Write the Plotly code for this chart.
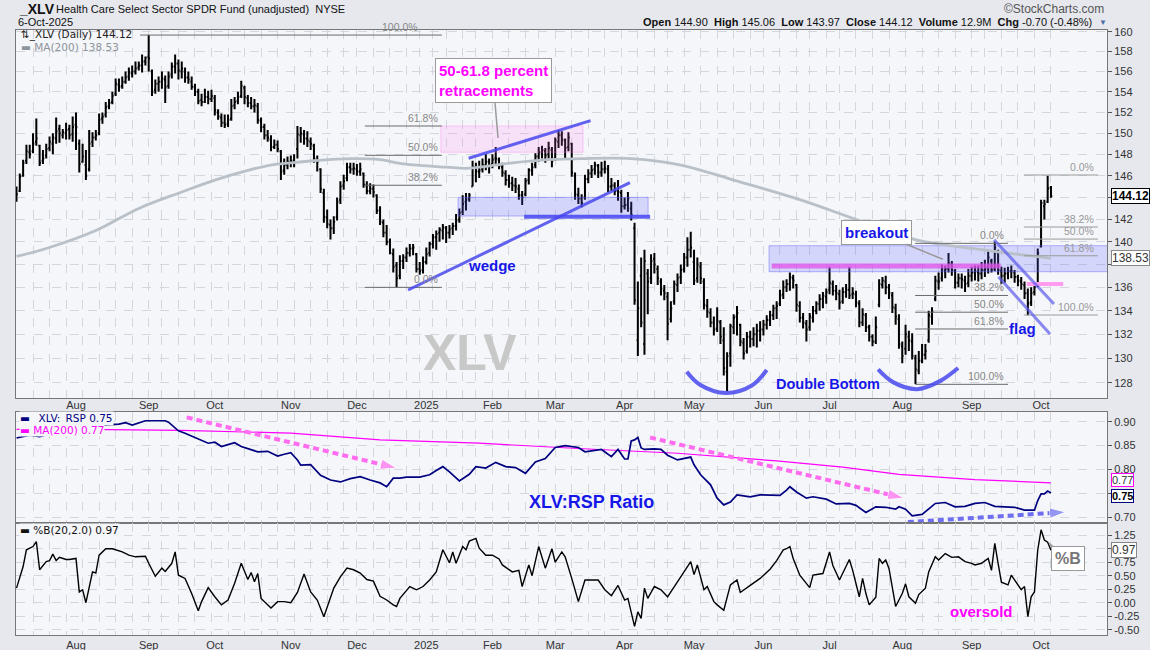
import math

import numpy as np
import pandas as pd
import plotly.graph_objects as go
from plotly.subplots import make_subplots

# trading calendar (weekdays minus exchange closures)
market_holidays = ["2024-09-02", "2024-11-28", "2024-12-25", "2025-01-01", "2025-01-09",
                   "2025-01-20", "2025-02-17", "2025-04-18", "2025-05-26", "2025-06-19",
                   "2025-07-04", "2025-09-01"]
all_days = pd.bdate_range("2024-07-08", "2025-10-06")
sessions = all_days[~all_days.strftime("%Y-%m-%d").isin(market_holidays)]

# _XLV daily bars
opens = [
    144.0, 144.6, 146.0, 147.4, 148.2, 148.3, 149.2, 148.8, 147.4, 147.9,
    148.6, 149.0, 149.5, 150.4, 149.8, 150.0, 150.4, 149.9, 150.8, 149.0,
    147.3, 147.0, 146.6, 149.2, 149.6, 150.0, 151.4, 151.8, 152.6, 153.0,
    153.8, 154.7, 154.6, 155.0, 155.5, 155.8, 156.0, 156.4, 156.6, 157.0,
    157.5, 156.0, 154.2, 154.8, 155.0, 155.2, 154.6, 155.7, 156.5, 156.8,
    156.0, 156.0, 155.4, 155.0, 154.5, 154.0, 153.2, 153.0, 153.5, 153.3,
    153.4, 152.0, 151.5, 151.0, 150.9, 151.4, 152.7, 153.1, 153.6, 154.4,
    153.4, 152.9, 152.6, 152.6, 151.2, 150.6, 149.8, 149.4, 148.7, 148.9,
    148.3, 146.5, 147.0, 147.3, 147.4, 148.5, 149.8, 149.9, 149.5, 149.2,
    148.8, 147.4, 146.6, 144.4, 142.2, 141.5, 141.2, 142.2, 143.8, 145.1,
    145.8, 146.8, 146.6, 146.6, 146.4, 146.2, 145.1, 144.6, 144.8, 144.2,
    142.8, 141.7, 140.8, 140.0, 138.9, 137.9, 137.0, 138.3, 138.6, 139.0,
    139.4, 138.9, 137.6, 137.5, 138.2, 139.0, 139.8, 140.4, 140.8, 141.0,
    141.2, 140.8, 141.2, 141.4, 142.0, 142.7, 143.6, 143.9, 145.0, 146.8,
    146.4, 146.6, 147.0, 147.3, 147.1, 147.6, 147.5, 146.8, 146.2, 145.6,
    145.3, 145.1, 144.8, 144.2, 144.3, 145.6, 146.5, 147.0, 147.8, 148.2,
    148.3, 148.0, 148.4, 147.6, 149.2, 149.8, 149.3, 148.7, 149.0, 146.0,
    144.2, 143.9, 144.0, 145.7, 146.2, 146.6, 146.9, 146.3, 146.6, 146.6,
    145.0, 145.1, 144.6, 144.4, 143.2, 143.3, 143.0, 141.2, 131.5, 137.0,
    131.2, 137.2, 136.8, 138.5, 137.6, 136.5, 135.7, 135.2, 133.3, 134.8,
    136.2, 136.9, 137.6, 138.6, 139.3, 138.2, 136.8, 137.8, 136.5, 134.4,
    133.8, 133.0, 132.5, 133.0, 131.5, 128.9, 130.4, 132.6, 133.5, 132.8,
    131.3, 130.6, 131.8, 131.6, 132.0, 132.3, 132.4, 132.8, 133.2, 133.6,
    134.2, 134.6, 135.4, 136.0, 136.3, 136.8, 136.2, 134.4, 133.4, 132.9,
    132.6, 133.4, 134.0, 134.6, 135.0, 135.2, 135.8, 136.3, 135.7, 135.4,
    134.8, 135.6, 135.8, 135.4, 135.4, 134.6, 133.0, 133.6, 132.6, 131.8,
    131.4, 134.5, 136.2, 136.5, 136.0, 135.3, 134.2, 133.3, 131.0, 130.8,
    131.8, 131.4, 130.0, 129.0, 129.8, 130.3, 131.5, 133.5, 135.0, 136.5,
    136.8, 137.4, 137.6, 138.0, 137.4, 136.4, 136.8, 136.6, 136.4, 137.0,
    137.3, 137.3, 137.2, 137.5, 137.7, 138.3, 137.6, 139.0, 137.4, 137.0,
    137.2, 137.4, 137.3, 136.9, 136.5, 136.2, 135.5, 134.7, 135.6, 136.2,
    139.6, 143.2, 143.6, 144.90,
]
highs = [
    145.0, 146.2, 147.5, 148.9, 148.9, 150.0, 151.4, 148.9, 148.4, 149.0,
    149.7, 150.0, 151.5, 150.8, 150.4, 151.0, 150.8, 151.6, 152.0, 149.4,
    149.0, 148.4, 150.3, 150.1, 150.3, 151.9, 152.0, 153.0, 153.3, 154.0,
    155.3, 155.3, 155.5, 156.0, 156.4, 156.6, 157.0, 157.0, 157.7, 157.5,
    159.66, 156.2, 155.2, 155.5, 156.0, 155.6, 156.0, 156.9, 157.7, 157.2,
    157.0, 156.4, 156.0, 155.5, 154.8, 154.3, 153.8, 154.3, 154.1, 154.2,
    153.7, 152.3, 151.9, 151.8, 151.8, 153.3, 153.5, 154.0, 155.1, 154.6,
    153.7, 153.5, 153.3, 152.9, 151.5, 150.9, 150.3, 149.8, 149.4, 149.3,
    148.4, 147.6, 147.8, 147.9, 148.0, 150.7, 150.6, 150.3, 150.2, 149.6,
    149.0, 147.9, 146.7, 144.8, 142.9, 142.0, 142.3, 144.0, 145.5, 146.1,
    147.2, 147.2, 147.2, 147.1, 147.2, 146.3, 145.5, 145.3, 145.2, 144.3,
    143.2, 142.0, 141.5, 140.3, 139.4, 138.2, 138.8, 138.9, 139.5, 139.8,
    139.8, 139.0, 138.2, 138.7, 139.5, 140.0, 140.7, 141.0, 141.3, 141.6,
    141.4, 141.5, 141.7, 142.5, 143.0, 144.2, 144.4, 144.4, 147.4, 147.2,
    147.4, 147.6, 148.0, 147.6, 148.0, 148.7, 147.7, 147.2, 146.5, 146.1,
    145.9, 145.8, 145.2, 144.6, 145.8, 146.7, 147.2, 148.1, 148.7, 148.8,
    148.6, 149.2, 148.7, 149.6, 150.3, 150.2, 149.5, 150.1, 149.1, 146.3,
    144.9, 144.3, 146.1, 146.6, 147.0, 147.3, 147.1, 147.3, 147.4, 147.0,
    145.8, 145.4, 145.6, 144.7, 144.0, 144.5, 143.6, 141.7, 136.5, 138.6,
    139.3, 137.6, 138.9, 139.0, 137.9, 136.8, 136.2, 135.6, 134.8, 136.6,
    137.2, 138.0, 139.0, 140.4, 140.9, 139.3, 138.6, 138.2, 136.8, 135.0,
    134.2, 133.5, 134.3, 133.2, 132.6, 130.5, 132.9, 133.7, 134.4, 132.9,
    131.7, 132.2, 132.3, 132.6, 132.9, 133.1, 133.2, 133.6, 134.0, 134.5,
    134.8, 135.8, 136.6, 136.7, 137.3, 137.1, 136.3, 134.8, 133.8, 133.2,
    133.8, 134.4, 134.8, 135.4, 135.6, 135.9, 137.8, 136.6, 136.2, 135.8,
    136.0, 136.3, 137.8, 136.0, 135.7, 134.9, 134.2, 133.8, 132.8, 132.0,
    133.5, 136.7, 136.9, 137.0, 136.3, 135.6, 134.6, 133.7, 131.4, 132.8,
    132.3, 132.1, 130.3, 130.6, 131.2, 131.2, 134.0, 134.3, 137.0, 137.3,
    138.0, 137.9, 139.0, 138.3, 137.6, 137.2, 137.2, 137.0, 137.6, 137.8,
    137.9, 137.9, 138.2, 138.4, 139.3, 138.5, 140.0, 139.3, 137.8, 137.7,
    137.8, 137.9, 137.5, 137.1, 136.9, 136.5, 135.9, 136.0, 136.2, 139.4,
    143.8, 143.8, 146.0, 145.06,
]
lows = [
    143.6, 144.5, 145.9, 147.1, 147.6, 148.1, 148.8, 146.9, 147.1, 147.6,
    148.3, 148.0, 149.0, 149.1, 149.5, 149.4, 149.4, 149.2, 148.4, 146.3,
    147.2, 145.6, 146.4, 148.7, 149.3, 149.8, 150.9, 151.5, 152.3, 152.8,
    153.6, 154.0, 154.3, 154.8, 155.1, 155.4, 155.7, 156.1, 155.9, 156.6,
    156.0, 153.6, 153.8, 154.0, 154.3, 152.9, 154.3, 155.3, 155.8, 155.2,
    155.3, 154.9, 154.8, 154.2, 153.6, 152.8, 152.6, 152.9, 152.8, 153.0,
    151.7, 151.3, 150.6, 150.5, 150.6, 151.2, 152.3, 152.8, 153.4, 152.8,
    152.5, 152.3, 152.0, 150.9, 150.1, 149.4, 149.2, 148.3, 148.5, 148.2,
    145.6, 146.1, 146.6, 146.8, 146.8, 147.6, 149.1, 148.9, 148.7, 148.4,
    147.2, 146.4, 144.4, 141.7, 141.2, 140.2, 140.7, 141.9, 143.4, 144.7,
    145.5, 146.2, 146.1, 146.0, 146.0, 144.9, 144.3, 144.3, 144.0, 142.5,
    141.5, 140.4, 139.7, 138.9, 137.3, 136.0, 136.7, 137.6, 138.2, 138.7,
    138.8, 137.3, 137.1, 137.2, 138.0, 138.7, 139.4, 139.3, 140.0, 140.2,
    139.9, 140.3, 140.6, 141.0, 141.7, 142.4, 142.8, 143.6, 145.0, 145.4,
    145.8, 146.3, 146.5, 146.2, 146.7, 147.0, 146.6, 145.9, 145.1, 144.9,
    144.6, 144.4, 143.8, 143.3, 144.1, 145.2, 146.0, 146.7, 147.3, 147.6,
    147.2, 147.6, 146.8, 147.4, 148.6, 148.8, 147.6, 148.3, 145.9, 143.8,
    143.4, 143.1, 143.8, 145.3, 145.8, 146.1, 145.8, 145.9, 146.2, 144.5,
    144.6, 144.2, 143.7, 142.6, 142.9, 142.7, 141.9, 134.5, 130.2, 132.6,
    130.3, 133.7, 136.3, 137.2, 136.2, 135.3, 134.9, 131.5, 133.0, 134.5,
    135.6, 136.3, 137.3, 137.8, 138.6, 136.2, 136.4, 136.3, 134.1, 133.4,
    132.6, 131.9, 132.2, 131.2, 128.6, 127.3, 129.3, 132.0, 131.9, 131.0,
    129.9, 130.4, 130.9, 131.0, 130.9, 131.4, 131.9, 132.4, 132.7, 133.2,
    133.3, 134.4, 135.0, 135.6, 135.7, 135.9, 133.9, 133.0, 132.5, 131.4,
    132.3, 133.0, 133.7, 134.0, 134.2, 134.6, 135.4, 135.3, 134.9, 134.1,
    134.6, 135.1, 135.0, 135.0, 134.3, 132.6, 132.7, 132.2, 131.4, 131.0,
    131.2, 134.3, 135.9, 135.4, 135.0, 133.8, 132.8, 130.8, 129.6, 130.3,
    130.6, 129.9, 127.9, 128.7, 129.6, 129.9, 131.3, 132.8, 134.8, 135.8,
    136.5, 136.8, 137.3, 137.0, 135.9, 136.0, 135.9, 135.6, 136.0, 136.5,
    136.6, 136.5, 136.7, 136.9, 137.2, 137.3, 137.4, 137.1, 136.3, 136.4,
    136.7, 136.8, 136.4, 136.1, 135.8, 135.0, 133.6, 134.4, 135.3, 136.0,
    139.5, 142.0, 143.5, 143.97,
]
closes = [
    144.3, 145.9, 147.2, 148.3, 148.0, 149.0, 149.5, 147.2, 147.6, 148.5,
    149.2, 149.6, 150.2, 150.0, 150.1, 150.3, 149.8, 150.6, 150.6, 147.1,
    147.8, 146.0, 149.0, 149.6, 149.8, 151.3, 151.6, 152.5, 152.9, 153.6,
    154.8, 154.5, 155.0, 155.4, 155.9, 156.0, 156.3, 156.6, 157.0, 157.4,
    157.3, 154.0, 154.8, 155.0, 155.3, 154.5, 155.5, 156.5, 156.8, 156.1,
    156.3, 155.4, 155.2, 154.5, 154.0, 153.1, 153.0, 153.5, 153.3, 153.6,
    152.2, 151.6, 151.0, 150.8, 151.3, 152.6, 153.0, 153.5, 154.6, 153.5,
    152.9, 152.6, 152.7, 151.3, 150.6, 149.8, 149.6, 148.7, 148.9, 148.5,
    146.4, 147.0, 147.3, 147.4, 147.2, 149.9, 150.0, 149.5, 149.3, 149.0,
    147.6, 147.3, 144.8, 142.2, 141.6, 141.2, 141.8, 143.6, 145.0, 145.5,
    146.8, 146.6, 146.7, 146.4, 146.6, 145.2, 144.6, 144.8, 144.5, 142.8,
    141.8, 140.8, 140.0, 139.0, 137.8, 136.8, 138.3, 138.6, 139.0, 139.4,
    139.5, 137.6, 137.4, 138.2, 138.9, 139.8, 140.4, 140.7, 141.1, 141.3,
    140.8, 141.1, 141.4, 141.9, 142.6, 143.4, 143.8, 144.2, 146.8, 146.4,
    146.5, 147.0, 147.3, 147.0, 147.5, 147.6, 146.9, 146.3, 145.6, 145.3,
    145.1, 145.0, 144.2, 144.0, 145.5, 146.5, 146.8, 147.8, 148.2, 148.4,
    147.9, 148.6, 147.4, 149.3, 149.8, 149.4, 148.6, 149.6, 146.3, 144.3,
    143.9, 143.5, 145.7, 146.2, 146.5, 147.0, 146.3, 146.6, 146.7, 145.0,
    145.1, 144.6, 144.5, 143.2, 143.3, 143.9, 142.4, 134.9, 134.2, 133.0,
    138.3, 136.5, 138.3, 138.0, 136.8, 135.9, 135.5, 132.9, 134.2, 136.3,
    136.8, 137.5, 138.6, 139.3, 139.5, 136.6, 138.0, 136.8, 134.5, 133.9,
    133.0, 132.4, 133.1, 131.8, 129.2, 130.2, 132.7, 133.4, 133.8, 131.4,
    130.4, 131.8, 131.6, 132.0, 132.3, 132.4, 132.8, 133.2, 133.6, 134.2,
    134.4, 135.3, 136.0, 136.3, 136.9, 136.6, 134.5, 133.4, 133.0, 132.4,
    133.5, 134.0, 134.6, 135.0, 135.3, 135.6, 136.4, 135.7, 135.5, 134.7,
    135.6, 135.8, 135.3, 135.5, 134.7, 133.0, 133.7, 132.6, 131.8, 131.4,
    132.6, 136.3, 136.6, 136.0, 135.5, 134.3, 133.5, 131.2, 130.2, 132.0,
    131.5, 130.2, 129.1, 129.8, 130.3, 130.6, 133.6, 133.9, 136.6, 136.5,
    137.6, 137.6, 138.1, 137.5, 136.4, 136.8, 136.7, 136.3, 137.0, 137.3,
    137.4, 137.2, 137.5, 137.6, 138.6, 137.5, 139.5, 137.5, 137.0, 137.2,
    137.4, 137.4, 136.9, 136.6, 136.3, 135.5, 134.6, 135.5, 136.0, 139.0,
    143.5, 143.4, 144.82, 144.12,
]

# MA(200) of price, read at session numbers
ma200_session = [0, 9, 24, 37, 50, 60, 70, 77, 83, 90, 101, 110, 117,
                 130, 137, 150, 161, 171, 186, 201, 217, 237, 255, 272, 292, 313]
ma200_value = [138.7, 139.4, 141.0, 143.0, 144.5, 145.6, 146.5, 147.0, 147.2, 147.4, 147.6, 147.5, 147.1,
               146.8, 146.7, 147.2, 147.5, 147.6, 147.6, 147.0, 145.6, 143.8, 141.9, 140.2, 139.3, 138.53]

# _XLV:_RSP ratio
ratio_session = [
    0, 4, 7, 12, 18, 24, 31, 33, 35, 37,
    39, 42, 45, 46, 47, 49, 51, 53, 55, 58,
    60, 62, 64, 66, 68, 70, 73, 76, 79, 81,
    83, 85, 86, 89, 92, 95, 98, 101, 104, 107,
    110, 112, 114, 116, 118, 122, 125, 127, 129, 131,
    134, 137, 139, 142, 145, 148, 151, 154, 157, 160,
    163, 166, 168, 170, 172, 175, 177, 180, 182, 184,
    185, 186, 187, 188, 189, 190, 193, 195, 197, 200,
    202, 204, 205, 207, 210, 212, 214, 216, 218, 222,
    225, 228, 231, 233, 234, 236, 239, 241, 245, 248,
    252, 254, 257, 260, 263, 266, 267, 269, 271, 274,
    278, 281, 284, 287, 290, 293, 296, 299, 302, 305,
    308, 309, 310, 311, 312, 313,
]
ratio_value = [
    0.866, 0.872, 0.869, 0.878, 0.885, 0.892, 0.895, 0.898, 0.893, 0.897,
    0.902, 0.902, 0.902, 0.899, 0.893, 0.881, 0.876, 0.870, 0.863, 0.855,
    0.857, 0.848, 0.852, 0.856, 0.848, 0.844, 0.837, 0.838, 0.828, 0.832,
    0.835, 0.820, 0.809, 0.810, 0.788, 0.778, 0.774, 0.781, 0.785, 0.778,
    0.772, 0.764, 0.782, 0.782, 0.784, 0.784, 0.789, 0.798, 0.806, 0.795,
    0.776, 0.790, 0.806, 0.803, 0.815, 0.806, 0.804, 0.792, 0.816, 0.823,
    0.846, 0.850, 0.848, 0.846, 0.837, 0.840, 0.842, 0.827, 0.842, 0.822,
    0.822, 0.860, 0.862, 0.867, 0.845, 0.842, 0.843, 0.842, 0.830, 0.820,
    0.823, 0.826, 0.810, 0.789, 0.768, 0.740, 0.726, 0.732, 0.747, 0.743,
    0.747, 0.747, 0.746, 0.757, 0.764, 0.753, 0.740, 0.743, 0.738, 0.728,
    0.729, 0.725, 0.710, 0.722, 0.721, 0.717, 0.722, 0.717, 0.703, 0.706,
    0.729, 0.731, 0.722, 0.723, 0.729, 0.731, 0.723, 0.722, 0.721, 0.715,
    0.715, 0.735, 0.749, 0.749, 0.755, 0.751,
]
ratio_ma_session = [0, 20, 50, 83, 110, 140, 170, 200, 230, 250, 267, 290, 313]
ratio_ma_value = [0.884, 0.884, 0.882, 0.876, 0.862, 0.855, 0.844, 0.834, 0.818, 0.805, 0.790, 0.779, 0.772]

# %B(20,2.0)
pctb_session = [
    0, 2, 3, 5, 6, 7, 9, 10, 11, 12,
    13, 15, 16, 18, 19, 20, 21, 23, 24, 25,
    27, 29, 32, 34, 36, 39, 40, 42, 44, 45,
    47, 48, 49, 51, 53, 55, 56, 58, 60, 62,
    64, 66, 68, 70, 71, 72, 73, 74, 77, 79,
    81, 83, 85, 87, 89, 91, 93, 94, 96, 98,
    100, 102, 104, 106, 108, 110, 112, 114, 115, 116,
    119, 121, 123, 125, 127, 129, 131, 132, 133, 135,
    136, 137, 139, 140, 142, 144, 146, 147, 150, 152,
    153, 155, 156, 158, 160, 162, 163, 165, 166, 168,
    170, 172, 174, 176, 178, 180, 182, 184, 185, 187,
    188, 189, 190, 191, 193, 195, 197, 199, 201, 204,
    205, 206, 208, 209, 211, 212, 214, 216, 218, 219,
    222, 225, 228, 230, 232, 233, 234, 235, 237, 240,
    241, 244, 246, 247, 249, 252, 253, 255, 256, 257,
    258, 260, 261, 262, 263, 264, 266, 268, 269, 270,
    272, 273, 275, 276, 278, 279, 281, 283, 285, 287,
    289, 290, 292, 294, 295, 296, 297, 298, 300, 301,
    303, 304, 305, 306, 307, 308, 309, 310, 311, 312,
    313,
]
pctb_value = [
    0.27, 0.67, 0.98, 1.04, 1.13, 0.61, 0.76, 0.78, 0.90, 0.78,
    0.84, 0.80, 0.80, 0.82, 0.20, 0.24, 0.00, 0.57, 0.55, 0.88,
    1.00, 1.00, 0.94, 0.88, 0.85, 0.86, 0.73, 0.49, 0.64, 0.58,
    0.73, 0.94, 0.51, 0.45, 0.17, -0.15, 0.02, 0.28, 0.11, -0.04,
    0.05, 0.36, 0.73, 0.43, 0.56, 0.39, 0.54, 0.08, -0.10, 0.02,
    0.02, 0.00, 0.19, 0.53, 0.20, 0.05, -0.26, -0.07, 0.27, 0.48,
    0.64, 0.61, 0.55, 0.43, 0.40, 0.12, 0.05, -0.04, -0.07, 0.08,
    0.30, 0.24, 0.30, 0.42, 0.57, 0.98, 0.74, 0.94, 0.73, 1.04,
    0.98, 1.14, 1.19, 1.01, 0.88, 0.88, 0.81, 0.70, 0.57, 0.60,
    0.30, 0.70, 0.50, 1.04, 0.64, 1.00, 0.75, 0.94, 0.85, 0.45,
    0.02, 0.42, 0.42, 0.42, 0.24, 0.13, 0.32, 0.05, 0.08, -0.44,
    -0.17, -0.29, 0.27, 0.08, 0.30, 0.24, 0.11, 0.30, 0.48, 0.76,
    0.52, 0.70, 0.24, 0.30, 0.02, -0.04, -0.14, 0.33, 0.42, 0.19,
    0.32, 0.45, 0.62, 0.78, 0.98, 1.00, 1.04, 0.82, 0.51, 0.28,
    0.51, 0.54, 0.94, 0.69, 0.42, 0.80, 0.60, 0.11, 0.45, 0.17,
    -0.04, 0.10, 0.82, 0.73, 0.79, 0.63, -0.07, 0.17, 0.35, 0.11,
    -0.01, 0.15, 0.27, 0.57, 0.85, 0.79, 0.91, 0.84, 0.85, 0.76,
    0.73, 0.70, 0.73, 0.82, 0.60, 1.10, 0.73, 0.38, 0.33, 0.51,
    0.33, 0.24, 0.30, -0.26, 0.11, 0.20, 0.98, 1.35, 1.16, 1.12,
    0.97,
]

# axis ticks; labels sitting under a last-value tag are left blank, as on the original
price_ticks = list(range(128, 161, 2))
price_ticktext = ["" if t in (138, 144) else str(t) for t in price_ticks]
ratio_ticks = [0.70, 0.75, 0.80, 0.85, 0.90]
ratio_ticktext = ["0.70", "", "0.80", "0.85", "0.90"]
pctb_ticks = [-0.5, -0.25, 0.0, 0.25, 0.5, 0.75, 1.0, 1.25]
pctb_ticktext = ["-0.50", "-0.25", "0.00", "0.25", "0.50", "0.75", "", "1.25"]

# fibonacci retracement levels (price, label)
fib_left = [(159.66, "100.0%"), (150.69, "61.8%"), (147.91, "50.0%"), (145.12, "38.2%"), (136.0, "0.0%")]
fib_mid = [(139.86, "0.0%"), (135.3, "38.2%"), (133.87, "50.0%"), (132.45, "61.8%"), (127.87, "100.0%")]
fib_right = [(146.07, "0.0%"), (141.32, "38.2%"), (140.24, "50.0%"), (138.76, "61.8%"), (133.63, "100.0%")]

x = np.arange(len(sessions))
assert len(x) == len(closes) == len(opens) == len(highs) == len(lows)

month_start = [i for i in range(1, len(sessions)) if sessions[i].month != sessions[i - 1].month]
month_text = ["2025" if sessions[i].month == 1 else sessions[i].strftime("%b") for i in month_start]
week_start = [i for i in range(1, len(sessions)) if sessions[i].weekday() < sessions[i - 1].weekday()]

FONT = "Liberation Sans, Arial, sans-serif"
PLOT_BG = "#f5f6f9"
TXT_BLUE = "#1616e8"
DRAW_BLUE = "rgba(72,72,238,0.85)"
ZONE_FILL = "rgba(95,95,255,0.22)"
ZONE_EDGE = "rgba(95,95,255,0.45)"
PINK_DASH = "#ff6cf0"
LY = math.log10

fig = make_subplots(rows=3, cols=1, vertical_spacing=0.01)


def seg(xs, ys, color, width, row, dash=None, shape="linear"):
    fig.add_trace(go.Scatter(x=xs, y=ys, mode="lines", hoverinfo="skip", showlegend=False,
                             line=dict(color=color, width=width, dash=dash, shape=shape)),
                  row=row, col=1)


def box(x0, x1, y0, y1, fill, edge, row):
    fig.add_trace(go.Scatter(x=[x0, x1, x1, x0, x0], y=[y0, y0, y1, y1, y0], mode="lines",
                             fill="toself", fillcolor=fill, line=dict(color=edge, width=1),
                             hoverinfo="skip", showlegend=False),
                  row=row, col=1)


def arrow(xs, ys, color, row):
    fig.add_trace(go.Scatter(x=xs, y=ys, mode="lines+markers", hoverinfo="skip", showlegend=False,
                             line=dict(color=color, width=4, dash="6px,4px"),
                             marker=dict(symbol="arrow", size=[0, 17], angleref="previous", color=color)),
                  row=row, col=1)


# ---- price panel drawings (under the bars)
box(128.4, 171.4, 148.2, 150.69, "rgba(255,120,240,0.16)", "rgba(255,120,240,0.35)", 1)
box(133.6, 191.1, 142.31, 144.01, ZONE_FILL, ZONE_EDGE, 1)
box(227.7, 331.0, 137.36, 139.65, ZONE_FILL, ZONE_EDGE, 1)

fig.add_trace(go.Ohlc(x=x, open=opens, high=highs, low=lows, close=closes, tickwidth=0.4,
                      increasing=dict(line=dict(color="black", width=2)),
                      decreasing=dict(line=dict(color="black", width=2)),
                      hoverinfo="skip", showlegend=False), row=1, col=1)

seg(ma200_session, ma200_value, "#b9c0c8", 2.8, 1, shape="spline")

# fib lines
for lv, _ in fib_left:
    seg([37.4 if lv > 155 else 105.4, 128.7], [lv, lv], "#6a6a6a", 1, 1)
for lv, _ in fib_mid:
    seg([271.9, 300.0], [lv, lv], "#6a6a6a", 1, 1)
for lv, _ in fib_right:
    seg([304.8, 327.2], [lv, lv], "#9a9a9a", 1, 1)

seg([153.6, 191.7], [142.25, 142.25], "rgba(70,70,240,0.85)", 4, 1)
seg([136.8, 173.7], [147.63, 151.2], DRAW_BLUE, 3, 1)
seg([118.5, 185.6], [135.77, 145.36], DRAW_BLUE, 3, 1)
seg([228.5, 297.8], [137.86, 137.86], "rgba(225,80,235,0.75)", 5, 1)
seg([305.7, 316.7], [136.29, 136.29], "#ff9cf0", 4, 1)
seg([295.8, 313.9], [140.17, 134.57], "rgba(90,90,235,0.7)", 3, 1)
seg([297.1, 312.7], [136.92, 132.03], "rgba(90,90,235,0.7)", 3, 1)
seg([202.8, 206.8, 214.7, 222.5, 227.0], [128.9, 127.84, 127.17, 127.77, 129.04], DRAW_BLUE, 4, 1, shape="spline")
seg([260.7, 265.2, 272.4, 279.4, 284.9], [129.09, 128.05, 127.48, 128.13, 129.2], DRAW_BLUE, 4, 1, shape="spline")

# ---- ratio panel
seg(ratio_ma_session, ratio_ma_value, "#ff00ff", 1.2, 2)
seg(ratio_session, ratio_value, "#000080", 1.7, 2)
arrow([51.5, 115.0], [0.909, 0.803], PINK_DASH, 2)
arrow([191.7, 268.5], [0.867, 0.740], PINK_DASH, 2)
arrow([269.7, 317.5], [0.690, 0.711], "#6e6ef2", 2)

# ---- %B panel
fig.add_hline(y=1.21, line=dict(color="#000080", width=1.2), row=3, col=1)
fig.add_hline(y=0.5, line=dict(color="#888888", width=1, dash="dashdot"), row=3, col=1)
fig.add_hline(y=0.0, line=dict(color="#ff00ff", width=1.2), row=3, col=1)
seg(pctb_session, pctb_value, "black", 1.4, 3)

# ---- axes
axis_common = dict(showline=True, mirror=True, linecolor="#777777", linewidth=1,
                   zeroline=False, automargin=False)
for r in (1, 2, 3):
    fig.update_xaxes(range=[-0.15, 329.95], tickvals=month_start, ticktext=month_text,
                     showgrid=False, ticks="", tickfont=dict(size=11, color="#333"),
                     showticklabels=(r != 2), rangeslider_visible=False,
                     ticklabelstandoff=(-3 if r == 1 else 0),
                     minor=dict(tickvals=week_start, showgrid=True, gridcolor="#d3d6dd",
                                griddash="dash", gridwidth=1),
                     row=r, col=1, **axis_common)

grid = dict(showgrid=True, gridcolor="#d3d6dd", griddash="dash", gridwidth=1,
            side="right", ticks="outside", ticklen=4, tickcolor="#555",
            tickfont=dict(size=11, color="#333"))
fig.update_yaxes(type="log", range=[2.102989, 2.204589], tickvals=price_ticks,
                 ticktext=price_ticktext, row=1, col=1, **grid, **axis_common)
fig.update_yaxes(range=[0.6881, 0.9203], tickvals=ratio_ticks,
                 ticktext=ratio_ticktext, row=2, col=1, **grid, **axis_common)
fig.update_yaxes(range=[-0.598, 1.476], tickvals=pctb_ticks,
                 ticktext=pctb_ticktext, row=3, col=1, **grid, **axis_common)

fig.update_layout(
    width=1150, height=650,
    margin=dict(l=16, r=43, t=30, b=15),
    paper_bgcolor="#e6e8ee", plot_bgcolor=PLOT_BG,
    font=dict(family=FONT, size=11, color="#333"),
    showlegend=False,
    yaxis=dict(domain=[0.3917, 1.0]),
    yaxis2=dict(domain=[0.1851, 0.3686]),
    yaxis3=dict(domain=[0.0, 0.1851]),
)

ann = []


def note(text, xv, yv, xref="x", yref="y", size=11, color="#333", **kw):
    d = dict(text=text, x=xv, y=yv, xref=xref, yref=yref, showarrow=False,
             font=dict(family=kw.pop("family", FONT), size=size, color=color))
    d.update(kw)
    ann.append(d)


# header
note("<b>_XLV</b>", 0.0009, 1.0347, "paper", "paper", 14, "#111", xanchor="left", yanchor="middle")
note("Health Care Select Sector SPDR Fund (unadjusted)  NYSE", 0.0345, 1.0347, "paper", "paper", 11,
     "#111", xanchor="left", yanchor="middle")
note("6-Oct-2025", 0.0, 1.0132, "paper", "paper", 11, "#111", xanchor="left", yanchor="middle")
note("\u00a9StockCharts.com", 0.9991, 1.0347, "paper", "paper", 12, "#555", xanchor="right", yanchor="middle")
note("<b>Open</b> 144.90  <b>High</b> 145.06  <b>Low</b> 143.97  <b>Close</b> 144.12  "
     "<b>Volume</b> 12.9M  <b>Chg</b> -0.70 (-0.48%)", 0.988, 1.0132, "paper", "paper", 11, "#111",
     xanchor="right", yanchor="middle")
note("\u25bc", 0.9965, 1.0132, "paper", "paper", 8, "#4b6ea9", xanchor="center", yanchor="middle")

# panel legends
DJ = "DejaVu Sans, sans-serif"
note("\u21c5_XLV (Daily) 144.12", 0.0027, 0.9925, "paper", "paper", 10.5, "#222", xanchor="left",
     yanchor="middle", family=DJ)
note("\u25ac MA(200) 138.53", 0.0027, 0.9727, "paper", "paper", 10.5, "#8c949c", xanchor="left",
     yanchor="middle", family=DJ)
note("\u25ac _XLV:_RSP 0.75", 0.0027, 0.3575, "paper", "paper", 10.5, "#000080", xanchor="left",
     yanchor="middle", family=DJ, bgcolor=PLOT_BG, borderpad=0)
note("\u25ac MA(200) 0.77", 0.0027, 0.3385, "paper", "paper", 10.5, "#ff00ff", xanchor="left",
     yanchor="middle", family=DJ, bgcolor=PLOT_BG, borderpad=0)
note("\u25ac %B(20,2.0) 0.97", 0.0027, 0.1736, "paper", "paper", 10.5, "#111", xanchor="left",
     yanchor="middle", family=DJ, bgcolor=PLOT_BG, borderpad=0)

# fib labels
for lv, lab in fib_left:
    note(lab, 122.1 if lv > 155 else 128.2, LY(lv), size=10.5, color="#888", xanchor="right", yanchor="bottom")
for lv, lab in fib_mid:
    note(lab, 299.4, LY(lv), size=10.5, color="#888", xanchor="right", yanchor="bottom")
for lv, lab in fib_right:
    note(lab, 326.6, LY(lv), size=10.5, color="#999", xanchor="right", yanchor="bottom")

# chart texts
note("<b>XLV</b>", 137.2, LY(130.44), size=50, color="#c8c8c8")
note("<b>wedge</b>", 143.8, LY(137.88), size=15, color=TXT_BLUE)
note("<b>flag</b>", 304.5, LY(132.53), size=15, color=TXT_BLUE)
note("<b>Double Bottom</b>", 245.5, LY(127.87), size=14.5, color=TXT_BLUE)
note("<b>XLV:RSP Ratio</b>", 174.0, 0.732, "x2", "y2", 18, TXT_BLUE)
note("<b>oversold</b>", 292.0, -0.154, "x3", "y3", 15, "#ff00ff")

# callouts
callout = dict(showarrow=True, arrowhead=0, arrowwidth=1.5, arrowcolor="#9a9a9a",
               bgcolor="white", bordercolor="#9a9a9a", borderwidth=1, borderpad=3, align="left")
ann.append(dict(text="<b>50-61.8 percent<br>retracements</b>", x=145.7, y=LY(149.54), xref="x", yref="y",
                ax=-5, ay=-58, font=dict(family=FONT, size=15, color="#ff00ff"), **callout))
ann.append(dict(text="<b>breakout</b>", x=280.3, y=LY(138.45), xref="x", yref="y",
                ax=-66, ay=-27, font=dict(family=FONT, size=15, color=TXT_BLUE), **callout))
ann.append(dict(text="<b>%B</b>", x=312.4, y=1.10, xref="x3", yref="y3",
                ax=19, ay=15, font=dict(family=FONT, size=16, color="#777"), **callout))

# last-value tags on the right axis
tag = dict(xref="paper", x=1.0, xanchor="left", xshift=4, showarrow=False, bgcolor="white",
           borderwidth=1, borderpad=0)
ann.append(dict(text="<b>144.12</b>", y=LY(144.12), yref="y", bordercolor="#000",
                font=dict(family=FONT, size=12, color="#000"), **tag))
ann.append(dict(text="138.53", y=LY(138.53), yref="y", bordercolor="#888",
                font=dict(family=FONT, size=12, color="#333"), **tag))
ann.append(dict(text="0.77", y=0.772, yref="y2", yshift=3, bordercolor="#ff00ff",
                font=dict(family=FONT, size=11, color="#333"), **tag))
ann.append(dict(text="<b>0.75</b>", y=0.751, yref="y2", yshift=-3, bordercolor="#000080",
                font=dict(family=FONT, size=11, color="#000"), **tag))
ann.append(dict(text="0.97", y=0.97, yref="y3", bordercolor="#888",
                font=dict(family=FONT, size=12, color="#333"), **tag))

fig.update_layout(annotations=ann)

fig.write_html("out.html", config={"displayModeBar": False},
               post_script="document.body.style.margin='0';")
